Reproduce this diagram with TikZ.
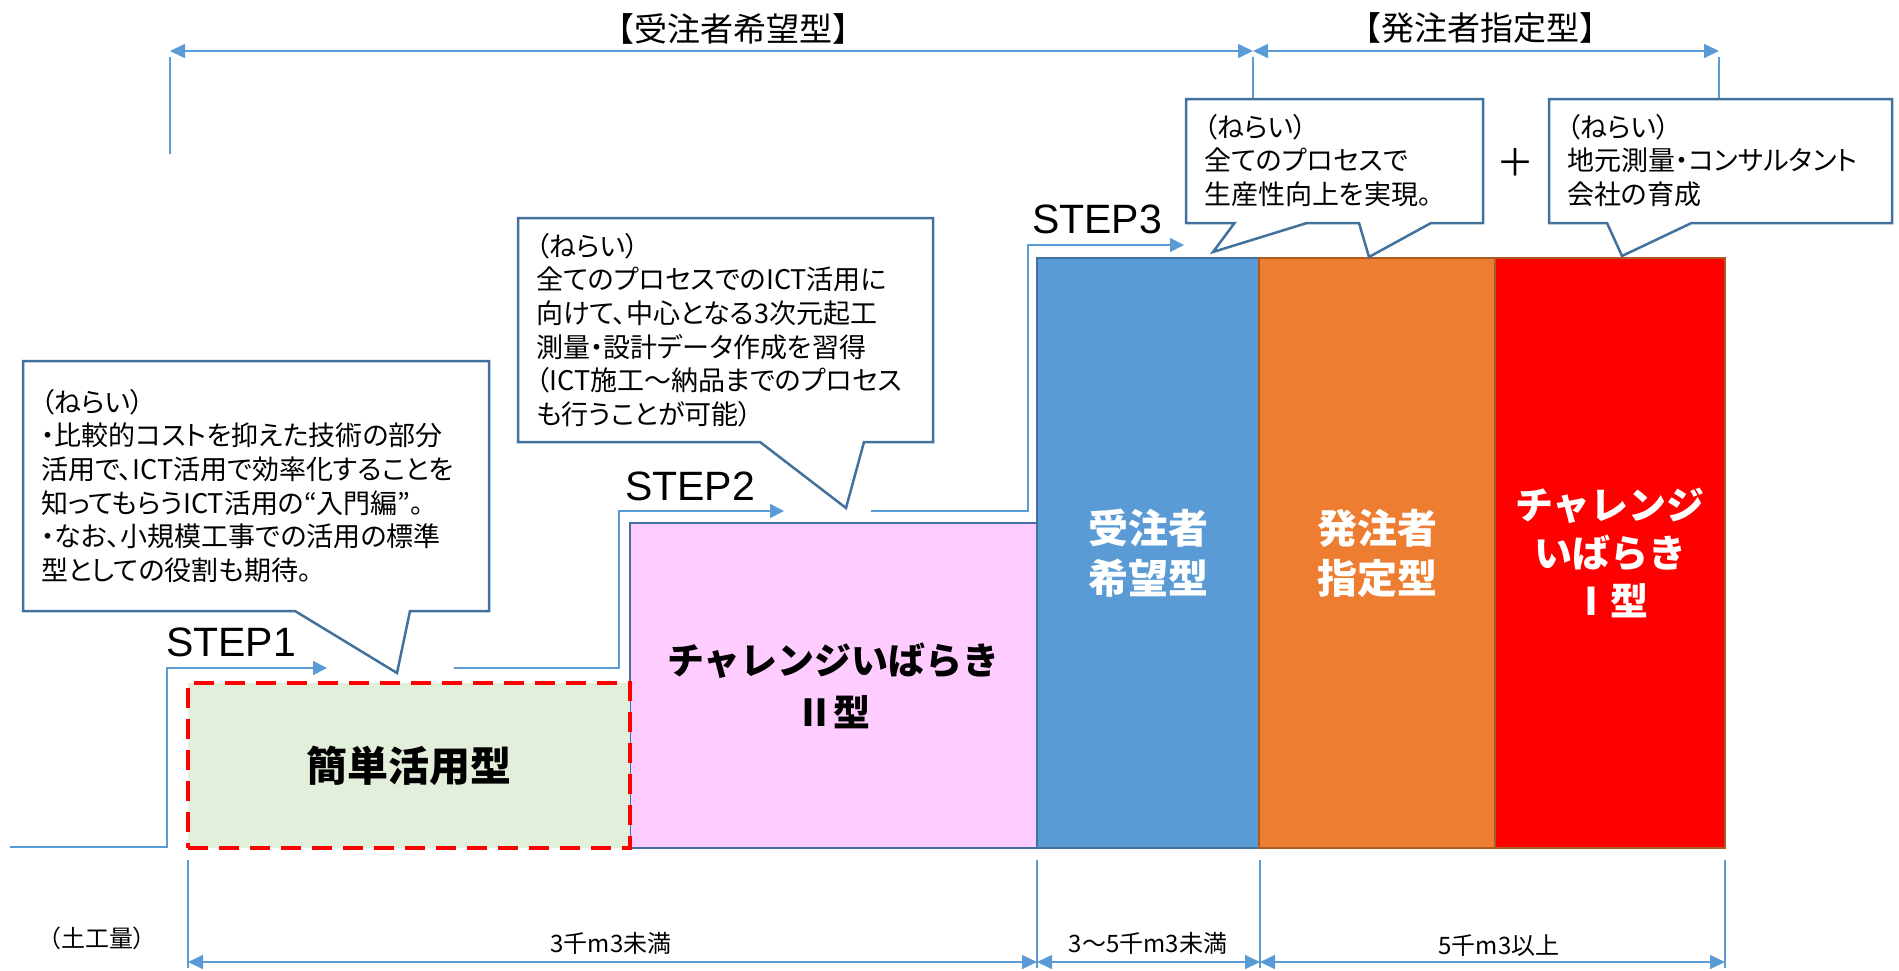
\documentclass[tikz,border=0pt]{standalone}
\usepackage{fontspec}
\setmainfont{Noto Sans CJK JP}
\newfontfamily\jpp[RawFeature=+palt]{Noto Sans CJK JP}
\newfontfamily\arialf{Liberation Sans}
\usetikzlibrary{arrows.meta}
\definecolor{lblue}{RGB}{91,155,213}
\definecolor{dblue}{RGB}{65,113,156}
\definecolor{orng}{RGB}{237,125,49}
\definecolor{dorng}{RGB}{174,90,33}
\definecolor{pinkf}{RGB}{255,204,255}
\definecolor{greenf}{RGB}{226,239,218}
\tikzset{
  dimarrow/.style={draw=lblue, line width=1.6pt, {Triangle[length=15pt,width=14pt]}-{Triangle[length=15pt,width=14pt]}},
  extline/.style={draw=lblue, line width=1.2pt},
  stepline/.style={draw=lblue, line width=1.6pt},
  steparrow/.style={stepline, -{Triangle[length=14pt,width=14pt]}},
  callout/.style={draw=dblue, line width=2.5pt, fill=white, line join=miter},
  ctext/.style={anchor=north west, inner sep=0pt, align=left, font=\jpp\fontsize{27}{33.6}\selectfont},
  titletxt/.style={inner sep=0pt, font=\fontsize{33}{33}\selectfont},
  blk/.style={inner sep=0pt, align=center, anchor=center},
  steplbl/.style={anchor=base west, inner sep=0pt, font=\arialf\fontsize{41}{41}\selectfont},
  dimlbl/.style={inner sep=0pt, font=\jpp\fontsize{24}{24}\selectfont},
}
\begin{document}
\begin{tikzpicture}[x=1pt,y=-1pt]
\useasboundingbox (0,0) rectangle (1899,970);

% ---- top dimension arrows
\coordinate (tl) at (170,51);
\coordinate (tm) at (1253,51);
\coordinate (tr) at (1719,51);
\coordinate (tlb) at (170,154);
\coordinate (tmb) at (1253,99);
\coordinate (trb) at (1719,99);
\draw[extline] ([yshift=-6pt]tl) -- (tlb);
\draw[extline] ([yshift=-6pt]tm) -- (tmb);
\draw[extline] ([yshift=-6pt]tr) -- (trb);
\draw[dimarrow] (tl) -- (tm);
\draw[dimarrow] (tm) -- (tr);
\node[titletxt] (h1) at (733,29) {【受注者希望型】};
\node[titletxt] (h2) at (1480,28) {【発注者指定型】};

% ---- main blocks
\node[blk, fill=pinkf, draw=dblue, line width=2pt, minimum width=407pt, minimum height=325pt,
      font=\bfseries\fontsize{37}{52}\selectfont] (b2) at (833.5,685.5) {チャレンジいばらき\\Ⅱ型};
\node[blk, fill=greenf, draw=red, line width=4.5pt, dash pattern=on 20pt off 11pt,
      minimum width=442pt, minimum height=165pt,
      font=\bfseries\fontsize{41}{41}\selectfont] (b1) at (409,765.5) {簡単活用型};
\node[blk, fill=lblue, draw=dblue, line width=2.5pt, minimum width=222pt, minimum height=590pt,
      text=white, font=\bfseries\fontsize{40}{50}\selectfont] (b3) at (1148,553) {受注者\\希望型};
\node[blk, fill=orng, draw=dorng, line width=2.5pt, minimum width=236pt, minimum height=590pt,
      text=white, font=\bfseries\fontsize{40}{50}\selectfont] (b4) at (1377,553) {発注者\\指定型};
\node[blk, fill=red, draw=dorng, line width=2.5pt, minimum width=230pt, minimum height=590pt,
      text=white, font=\bfseries\fontsize{38}{48}\selectfont] (b5) at (1610,553) {チャレンジ\\いばらき\\Ⅰ型};

% ---- stepped lines
\draw[steparrow] (10,847) -- (167,847) -- (167,668) -- (327,668);
\draw[steparrow] (454,668) -- (619,668) -- (619,511) -- (784,511);
\draw[steparrow] (871,511) -- (1028,511) -- (1028,245) -- (1184,245);

% ---- callouts
\path[callout] (23,361) -- (489,361) -- (489,611) -- (410,611) -- (397,673) -- (295,611) -- (23,611) -- cycle;
\node[ctext] (t1) at (41,389) {（ねらい）\\・比較的コストを抑えた技術の部分\\活用で、ICT活用で効率化することを\\知ってもらうICT活用の“入門編”。\\・なお、小規模工事での活用の標準\\型としての役割も期待。};

\path[callout] (518,218) -- (933,218) -- (933,442) -- (864,442) -- (846,508) -- (760,442) -- (518,442) -- cycle;
\node[ctext] (t2) at (536,233) {（ねらい）\\全てのプロセスでのICT活用に\\向けて、中心となる3次元起工\\測量・設計データ作成を習得\\（ICT施工～納品までのプロセス\\も行うことが可能）};

\path[callout] (1186,99) -- (1483,99) -- (1483,223) -- (1431,223) -- (1369,257) -- (1359,223) -- (1307,223) -- (1213,252) -- (1234.5,223) -- (1186,223) -- cycle;
\node[ctext] (t3) at (1204,114) {（ねらい）\\全てのプロセスで\\生産性向上を実現。};

\path[callout] (1549,99) -- (1892,99) -- (1892,223) -- (1691.5,223) -- (1622,256) -- (1607,223) -- (1549,223) -- cycle;
\node[ctext] (t4) at (1567,114) {（ねらい）\\地元測量・コンサルタント\\会社の育成};

\node[inner sep=0pt, font=\fontsize{38}{38}\selectfont] (plus) at (1515,162) {＋};

% ---- step labels
\node[steplbl] (st1) at (166,656) {STEP1};
\node[steplbl] (st2) at (625,500) {STEP2};
\node[steplbl] (st3) at (1032,233) {STEP3};

% ---- bottom dimension
\coordinate (d1) at (188,962);
\coordinate (d2) at (1037,962);
\coordinate (d3) at (1260,962);
\coordinate (d4) at (1725,962);
\foreach \c in {d1,d2,d3,d4} \draw[extline] (\c) ++(0,-102) -- ++(0,108);
\draw[dimarrow] (d1) -- (d2);
\draw[dimarrow] (d2) -- (d3);
\draw[dimarrow] (d3) -- (d4);
\node[dimlbl] (l0) at (97,938) {（土工量）};
\node[dimlbl] (l1) at (611,943) {3千m3未満};
\node[dimlbl] (l2) at (1148,943) {3～5千m3未満};
\node[dimlbl] (l3) at (1499,946) {5千m3以上};
\end{tikzpicture}
\end{document}
